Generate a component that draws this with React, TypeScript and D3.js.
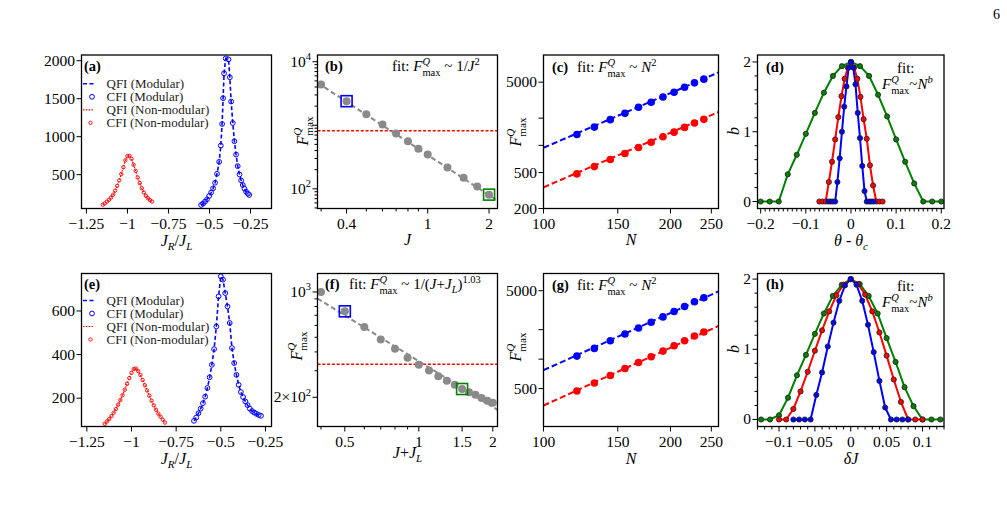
import React from 'react';
import * as d3 from 'd3';

const SERIF = '"Liberation Serif", "Times New Roman", Times, serif';
const BLUE = '#0000ff';
const RED = '#ff0000';
const GREEN = '#008000';
const GRAY = '#8a8a8a';
const TICK_FS = 15.5;
const FIT_FS = 15;
const SUP_FS = 10.5;

// ---- (a) Fisher information vs J_R/J_L, N small ----
const aModX = [-0.551, -0.539, -0.527, -0.515, -0.502, -0.49, -0.478, -0.466, -0.454, -0.441, -0.431, -0.423, -0.417, -0.411, -0.401, -0.384, -0.376, -0.368, -0.358, -0.348, -0.338, -0.328, -0.317, -0.307, -0.297, -0.287, -0.277, -0.266, -0.258];
const aModF = [102, 120, 146, 176, 220, 264, 320, 394, 512, 669, 883, 1167, 1507, 1834, 2030, 2017, 1782, 1463, 1180, 940, 765, 613, 503, 425, 364, 316, 277, 250, 233];
const aNonX = [-1.15, -1.1375, -1.125, -1.1125, -1.1, -1.0875, -1.075, -1.0625, -1.05, -1.0375, -1.025, -1.0125, -1.0, -0.9875, -0.975, -0.9625, -0.95, -0.9375, -0.925, -0.9125, -0.9, -0.8875, -0.875, -0.8625, -0.85];
const aNonF = [105, 122, 145, 170, 200, 237, 290, 352, 425, 508, 598, 690, 745, 748, 708, 630, 550, 462, 390, 322, 266, 222, 190, 165, 146];

// ---- (e) same, second coupling ----
const eModX = [-0.65, -0.6375, -0.625, -0.6125, -0.6, -0.5875, -0.575, -0.5625, -0.55, -0.5375, -0.525, -0.5125, -0.5, -0.4875, -0.475, -0.4625, -0.45, -0.4375, -0.425, -0.4125, -0.4, -0.3875, -0.375, -0.3625, -0.35, -0.3375, -0.325, -0.3125, -0.3, -0.2875, -0.275];
const eModF = [96, 111, 131, 152, 177, 207, 247, 296, 353, 425, 529, 667, 759, 744, 682, 621, 545, 430, 361, 307, 261, 228, 205, 185, 168, 152, 141, 134, 128, 123, 119];
const eNonX = [-1.15, -1.1375, -1.125, -1.1125, -1.1, -1.0875, -1.075, -1.0625, -1.05, -1.0375, -1.025, -1.0125, -1.0, -0.9875, -0.975, -0.9625, -0.95, -0.9375, -0.925, -0.9125, -0.9, -0.8875, -0.875, -0.8625, -0.85, -0.8375, -0.825, -0.8125];
const eNonF = [82, 93, 104, 118, 133, 150, 170, 191, 214, 239, 266, 292, 316, 334, 336, 324, 306, 283, 259, 235, 211, 188, 167, 147, 129, 115, 101, 88];

// ---- (b) peak QFI vs J ----
const bJ = [0.3, 0.4, 0.5, 0.6, 0.7, 0.8, 0.9, 1.0, 1.25, 1.5, 1.75, 2.0];
const bF = [4395, 2393, 1493, 1025, 740, 558, 428, 348, 217, 149, 109, 81];
const bFitJ = [0.288, 2.2];
const bFitF = [4660, 65];
const bRef = 820;

// ---- (f) peak QFI vs J+J_L ----
const fJ = [0.4, 0.5, 0.6, 0.7, 0.8, 0.9, 1.0, 1.1, 1.2, 1.3, 1.4, 1.5, 1.6, 1.7, 1.8, 1.9, 2.0];
const fF = [1000, 744, 585, 484, 420, 366, 329, 301, 276, 258, 242, 227, 216, 208, 198, 190, 184];
const fFitJ = [0.387, 2.09];
const fFitF = [905, 165];
const fRef = 332;

// ---- (c), (g) scaling with N ----
const nVals = [120, 132, 144, 156, 168, 180, 192, 204, 216, 228, 240];
const cBlue = [1321, 1592, 1925, 2261, 2636, 2999, 3434, 3873, 4404, 4920, 5404];
const cRed = [483, 582, 696, 812, 946, 1084, 1245, 1400, 1580, 1765, 1940];
const gBlue = [1074, 1288, 1542, 1806, 2083, 2383, 2702, 3068, 3451, 3856, 4236];
const gRed = [473, 571, 680, 803, 925, 1057, 1208, 1371, 1542, 1724, 1896];
const fitN = [100, 260];
const cFitBlue = [940, 6412];
const cFitRed = [343, 2338];
const gFitBlue = [771, 4920];
const gFitRed = [336, 2183];

// ---- (d) exponent b vs theta - theta_c ----
const dGreenX = [-0.2, -0.18, -0.16, -0.14, -0.12, -0.1, -0.08, -0.06, -0.04, -0.02, 0, 0.02, 0.04, 0.06, 0.08, 0.1, 0.12, 0.14, 0.16, 0.18, 0.2];
const dGreenB = [0, 0, 0, 0.39, 0.67, 0.97, 1.27, 1.56, 1.8, 1.94, 2.0, 1.94, 1.8, 1.53, 1.22, 0.89, 0.57, 0.26, 0, 0, 0];
const dRedX = [-0.07, -0.063, -0.056, -0.049, -0.042, -0.035, -0.028, -0.021, -0.014, -0.007, 0, 0.007, 0.014, 0.021, 0.028, 0.035, 0.042, 0.049, 0.056, 0.063, 0.07];
const dRedB = [0, 0, 0, 0.28, 0.57, 0.89, 1.21, 1.51, 1.76, 1.92, 2.0, 1.92, 1.76, 1.5, 1.18, 0.9, 0.52, 0.23, 0, 0, 0];
const dBlueX = [-0.05, -0.045, -0.04, -0.035, -0.03, -0.025, -0.02, -0.015, -0.01, -0.005, 0, 0.005, 0.01, 0.015, 0.02, 0.025, 0.03, 0.035, 0.04, 0.045, 0.05];
const dBlueB = [0, 0, 0, 0, 0.28, 0.62, 1.0, 1.36, 1.65, 1.92, 2.0, 1.92, 1.68, 1.27, 0.91, 0.51, 0.15, 0, 0, 0, 0];

// ---- (h) exponent b vs delta J ----
const hGreenX = [-0.125, -0.1125, -0.1, -0.0875, -0.075, -0.0625, -0.05, -0.0375, -0.025, -0.0125, 0, 0.0125, 0.025, 0.0375, 0.05, 0.0625, 0.075, 0.0875, 0.1, 0.1125, 0.125];
const hGreenB = [0, 0, 0.06, 0.31, 0.63, 0.92, 1.22, 1.51, 1.76, 1.92, 2.0, 1.93, 1.76, 1.51, 1.16, 0.82, 0.46, 0.19, 0, 0, 0];
const hRedX = [-0.1, -0.09, -0.08, -0.07, -0.06, -0.05, -0.04, -0.03, -0.02, -0.01, 0, 0.01, 0.02, 0.03, 0.04, 0.05, 0.06, 0.07, 0.08, 0.09, 0.1];
const hRedB = [0, 0, 0.15, 0.4, 0.68, 0.98, 1.27, 1.54, 1.77, 1.92, 2.0, 1.93, 1.78, 1.54, 1.24, 0.91, 0.57, 0.25, 0, 0, 0];
const hBlueX = [-0.08, -0.072, -0.064, -0.056, -0.048, -0.04, -0.032, -0.024, -0.016, -0.008, 0, 0.008, 0.016, 0.024, 0.032, 0.04, 0.048, 0.056, 0.064, 0.072, 0.08];
const hBlueB = [0, 0, 0, 0, 0.35, 0.67, 1.04, 1.38, 1.69, 1.91, 2.0, 1.92, 1.69, 1.35, 0.96, 0.55, 0.17, 0, 0, 0, 0];

// tick values
const jrTicks = [-1.25, -1, -0.75, -0.5, -0.25];
const jrLabels = ['\u22121.25', '\u22121', '\u22120.75', '\u22120.5', '\u22120.25'];
const nTicks = [100, 150, 200, 250];
const dTicks = [-0.2, -0.1, 0, 0.1, 0.2];
const dLabels = ['\u22120.2', '\u22120.1', '0', '0.1', '0.2'];
const hTicks = [-0.1, -0.05, 0, 0.05, 0.1];
const hLabels = ['\u22120.1', '\u22120.05', '0', '0.05', '0.1'];
const bTicks = [0, 1, 2];

// panel frames
const colX = [[81.5, 271.5], [317.5, 497.5], [543.5, 718.5], [757.5, 944]];
const rowY = [[55, 208.5], [273.5, 426.5]];

const lin = (dom: number[], c: number, r: number, axis: 'x' | 'y') =>
  d3.scaleLinear().domain(dom).range(axis === 'x' ? colX[c] : [rowY[r][1], rowY[r][0]]);
const lg = (dom: number[], c: number, r: number, axis: 'x' | 'y') =>
  d3.scaleLog().domain(dom).range(axis === 'x' ? colX[c] : [rowY[r][1], rowY[r][0]]);

function Frame({ c, r }: any) {
  const [x0, x1] = colX[c];
  const [y0, y1] = rowY[r];
  return <rect x={x0} y={y0} width={x1 - x0} height={y1 - y0} fill="none" stroke="#000" strokeWidth={1.3} />;
}

function XTicks({ s, r, major, minor = [], labels }: any) {
  const y = rowY[r][1];
  return (
    <g>
      <g stroke="#000" strokeWidth={1}>
        {major.map((v: number) => <line key={'M' + v} x1={s(v)} x2={s(v)} y1={y} y2={y + 5} />)}
        {minor.map((v: number) => <line key={'m' + v} x1={s(v)} x2={s(v)} y1={y} y2={y + 3} />)}
      </g>
      {labels && major.map((v: number, i: number) =>
        labels[i] == null ? null : (
          <text key={'L' + v} x={s(v)} y={y + 20} textAnchor="middle" fontSize={TICK_FS}>{labels[i]}</text>
        ))}
    </g>
  );
}

function YTicks({ s, c, major, minor = [], labels }: any) {
  const x = colX[c][0];
  return (
    <g>
      <g stroke="#000" strokeWidth={1}>
        {major.map((v: number) => <line key={'M' + v} x1={x} x2={x - 5} y1={s(v)} y2={s(v)} />)}
        {minor.map((v: number) => <line key={'m' + v} x1={x} x2={x - 3} y1={s(v)} y2={s(v)} />)}
      </g>
      {labels && major.map((v: number, i: number) =>
        labels[i] == null ? null : (
          <text key={'L' + v} x={x - 6.5} y={s(v) + 5} textAnchor="end" fontSize={TICK_FS}>{labels[i]}</text>
        ))}
    </g>
  );
}

function Curve({ xs, ys, sx, sy, stroke, width, dash }: any) {
  const d = d3.line<number>().x((_, i) => sx(xs[i])).y((v) => sy(v))(ys);
  return <path d={d || ''} fill="none" stroke={stroke} strokeWidth={width} strokeDasharray={dash} />;
}

function Dots({ xs, ys, sx, sy, r, fill, stroke, sw }: any) {
  return (
    <g>
      {xs.map((x: number, i: number) => (
        <circle key={i} cx={sx(x)} cy={sy(ys[i])} r={r} fill={fill} stroke={stroke} strokeWidth={sw} />
      ))}
    </g>
  );
}

// F^Q_max with Q stacked over "max"; `after` continues on the main baseline
function FQ({ size, after = '' }: any) {
  const s = size * 0.7;
  return (
    <>
      <tspan fontStyle="italic">F</tspan>
      <tspan fontStyle="italic" fontSize={s} dy={-size * 0.42}>Q</tspan>
      <tspan fontSize={s} dx={-s * 0.72} dy={size * 0.74}>max</tspan>
      {after ? <tspan dy={-size * 0.32}>{after}</tspan> : null}
    </>
  );
}

function Legend({ r }: any) {
  const top = r === 0 ? 83.8 : 300.5;
  const rows = ['QFI (Modular)', 'CFI (Modular)', 'QFI (Non-modular)', 'CFI (Non-modular)'];
  return (
    <g>
      <line x1={83} x2={94} y1={top} y2={top} stroke={BLUE} strokeWidth={1.6} strokeDasharray="4 2.5" />
      <circle cx={92} cy={top + 13} r={2.4} fill="none" stroke={BLUE} strokeWidth={1} />
      <line x1={83} x2={94} y1={top + 26} y2={top + 26} stroke={RED} strokeWidth={1.2} strokeDasharray="1.5 1.3" />
      <circle cx={90.5} cy={top + 39} r={1.7} fill="none" stroke={RED} strokeWidth={0.9} />
      {rows.map((t, i) => (
        <text key={t} x={106.5} y={top + 13 * i + 4.4} fontSize={13} fill="#222">{t}</text>
      ))}
    </g>
  );
}

function Square({ cx, cy, color }: any) {
  return <rect x={cx - 5.5} y={cy - 5.5} width={11} height={11} fill="none" stroke={color} strokeWidth={1.6} />;
}

const Sup = ({ children, italic }: any) => (
  <tspan fontSize={SUP_FS} dy={-6.5} fontStyle={italic ? 'italic' : undefined}>{children}</tspan>
);

export default function App() {
  // scales
  const ax = lin([-1.28, -0.122], 0, 0, 'x');
  const ay = lin([55, 2075], 0, 0, 'y');
  const ex = lin([-1.28, -0.216], 0, 1, 'x');
  const ey = lin([70, 772], 0, 1, 'y');
  const bx = lg([0.288, 2.2], 1, 0, 'x');
  const by = lg([49, 12760], 1, 0, 'y');
  const fx = lg([0.387, 2.09], 1, 1, 'x');
  const fy = lg([128, 1326], 1, 1, 'y');
  const cx = lg([100, 260], 2, 0, 'x');
  const cy = lg([200, 10000], 2, 0, 'y');
  const gx = lg([100, 260], 2, 1, 'x');
  const gy = lg([205, 7500], 2, 1, 'y');
  const dx = lin([-0.207, 0.206], 3, 0, 'x');
  const dy = lin([-0.1, 2.1], 3, 0, 'y');
  const hx = lin([-0.13, 0.13], 3, 1, 'x');
  const hy = lin([-0.1, 2.08], 3, 1, 'y');

  const pow10 = (e: string) => <>10<tspan fontSize={10.5} dy={-6.5}>{e}</tspan></>;
  const hundredths = d3.range(-20, 21).map((k) => k / 100).filter((v) => Math.abs(v * 10 - Math.round(v * 10)) > 1e-9);
  const hMinor = d3.range(-13, 14).map((k) => k / 100).filter((v) => Math.abs(v * 20 - Math.round(v * 20)) > 1e-9);
  const bMinor = [0.3, 0.5, 0.6, 0.7, 0.8, 0.9];
  const bYMinor = [50, 60, 70, 80, 90, 200, 300, 400, 500, 600, 700, 800, 900, 2000, 3000, 4000, 5000, 6000, 7000, 8000, 9000];
  const fYMinor = [300, 400, 500, 600, 700, 800, 900];
  const bMinorY = [0.2, 0.4, 0.6, 0.8, 1.2, 1.4, 1.6, 1.8];

  const axisLabelSize = 16;

  return (
    <svg width={1007} height={508} style={{ position: 'absolute', left: 0, top: 0, display: 'block' }}
      fontFamily={SERIF} fill="#000">
      <rect width={1007} height={508} fill="#fff" />
      <text x={993} y={19} fontSize={14}>6</text>

      {/* ---------- (a) ---------- */}
      <Curve xs={aNonX} ys={aNonF} sx={ax} sy={ay} stroke={RED} width={1.2} dash="1.5 1.3" />
      <Dots xs={aNonX} ys={aNonF} sx={ax} sy={ay} r={1.7} fill="none" stroke={RED} sw={0.9} />
      <Curve xs={aModX} ys={aModF} sx={ax} sy={ay} stroke={BLUE} width={1.6} dash="4 2.5" />
      <Dots xs={aModX} ys={aModF} sx={ax} sy={ay} r={2.4} fill="none" stroke={BLUE} sw={1} />
      <Frame c={0} r={0} />
      <XTicks s={ax} r={0} major={jrTicks} labels={jrLabels} />
      <YTicks s={ay} c={0} major={[500, 1000, 1500, 2000]} labels={['500', '1000', '1500', '2000']} />
      <text x={84} y={71} fontSize={14.5} fontWeight="bold">(a)</text>
      <Legend r={0} />
      <text x={176.5} y={246} fontSize={axisLabelSize} textAnchor="middle">
        <tspan fontStyle="italic">J</tspan><tspan fontStyle="italic" fontSize={11} dy={3.5}>R</tspan>
        <tspan dy={-3.5}>/</tspan><tspan fontStyle="italic">J</tspan><tspan fontStyle="italic" fontSize={11} dy={3.5}>L</tspan>
      </text>

      {/* ---------- (e) ---------- */}
      <Curve xs={eNonX} ys={eNonF} sx={ex} sy={ey} stroke={RED} width={1.2} dash="1.5 1.3" />
      <Dots xs={eNonX} ys={eNonF} sx={ex} sy={ey} r={1.7} fill="none" stroke={RED} sw={0.9} />
      <Curve xs={eModX} ys={eModF} sx={ex} sy={ey} stroke={BLUE} width={1.6} dash="4 2.5" />
      <Dots xs={eModX} ys={eModF} sx={ex} sy={ey} r={2.4} fill="none" stroke={BLUE} sw={1} />
      <Frame c={0} r={1} />
      <XTicks s={ex} r={1} major={jrTicks} labels={jrLabels} />
      <YTicks s={ey} c={0} major={[200, 400, 600]} labels={['200', '400', '600']} />
      <text x={84} y={289} fontSize={14.5} fontWeight="bold">(e)</text>
      <Legend r={1} />
      <text x={176.5} y={464} fontSize={axisLabelSize} textAnchor="middle">
        <tspan fontStyle="italic">J</tspan><tspan fontStyle="italic" fontSize={11} dy={3.5}>R</tspan>
        <tspan dy={-3.5}>/</tspan><tspan fontStyle="italic">J</tspan><tspan fontStyle="italic" fontSize={11} dy={3.5}>L</tspan>
      </text>

      {/* ---------- (b) ---------- */}
      <line x1={colX[1][0]} x2={colX[1][1]} y1={by(bRef)} y2={by(bRef)} stroke={RED} strokeWidth={1.5} strokeDasharray="3 1.8" />
      <Curve xs={bFitJ} ys={bFitF} sx={bx} sy={by} stroke={GRAY} width={2} dash="5 3" />
      <Dots xs={bJ} ys={bF} sx={bx} sy={by} r={4} fill={GRAY} stroke="none" sw={0} />
      <Square cx={bx(bJ[1])} cy={by(bF[1])} color={BLUE} />
      <Square cx={bx(bJ[11])} cy={by(bF[11])} color={GREEN} />
      <Frame c={1} r={0} />
      <XTicks s={bx} r={0} major={[0.4, 1, 2]} minor={bMinor} labels={['0.4', '1', '2']} />
      <YTicks s={by} c={1} major={[100, 1000, 10000]} minor={bYMinor} labels={[pow10('2'), null, pow10('4')]} />
      <text x={325} y={71} fontSize={14.5} fontWeight="bold">(b)</text>
      <text x={392} y={71} fontSize={FIT_FS}>
        fit: <FQ size={FIT_FS} after=" ~ 1/" /><tspan fontStyle="italic">J</tspan><Sup>2</Sup>
      </text>
      <text transform="translate(308,131) rotate(-90)" fontSize={16} textAnchor="middle"><FQ size={16} /></text>
      <text x={407.5} y={245} fontSize={axisLabelSize} textAnchor="middle" fontStyle="italic">J</text>

      {/* ---------- (f) ---------- */}
      <line x1={colX[1][0]} x2={colX[1][1]} y1={fy(fRef)} y2={fy(fRef)} stroke={RED} strokeWidth={1.5} strokeDasharray="3 1.8" />
      <Curve xs={fFitJ} ys={fFitF} sx={fx} sy={fy} stroke={GRAY} width={2} dash="5 3" />
      <Dots xs={fJ} ys={fF} sx={fx} sy={fy} r={4} fill={GRAY} stroke="none" sw={0} />
      <Square cx={fx(fJ[1])} cy={fy(fF[1])} color={BLUE} />
      <Square cx={fx(fJ[11])} cy={fy(fF[11])} color={GREEN} />
      <Frame c={1} r={1} />
      <XTicks s={fx} r={1} major={[0.5, 1, 1.5, 2]} minor={[0.4, 0.6, 0.7, 0.8, 0.9]} labels={['0.5', '1', '1.5', '2']} />
      <YTicks s={fy} c={1} major={[200, 1000]} minor={fYMinor} labels={[<>2×{pow10('2')}</>, pow10('3')]} />
      <text x={325} y={289} fontSize={14.5} fontWeight="bold">(f)</text>
      <text x={349} y={289} fontSize={FIT_FS}>
        fit: <FQ size={FIT_FS} after=" ~ 1/(" /><tspan fontStyle="italic">J</tspan>+<tspan fontStyle="italic">J</tspan>
        <tspan fontStyle="italic" fontSize={SUP_FS} dy={3.5}>L</tspan><tspan dy={-3.5}>)</tspan>
        <Sup>1.03</Sup>
      </text>
      <text transform="translate(302,346) rotate(-90)" fontSize={16} textAnchor="middle"><FQ size={16} /></text>
      <text x={407.5} y={458} fontSize={axisLabelSize} textAnchor="middle">
        <tspan fontStyle="italic">J</tspan>+<tspan fontStyle="italic">J</tspan><tspan fontStyle="italic" fontSize={11} dy={3.5}>L</tspan>
      </text>

      {/* ---------- (c) ---------- */}
      <Curve xs={fitN} ys={cFitBlue} sx={cx} sy={cy} stroke={BLUE} width={2} dash="6 3" />
      <Curve xs={fitN} ys={cFitRed} sx={cx} sy={cy} stroke={RED} width={2} dash="6 3" />
      <Dots xs={nVals} ys={cBlue} sx={cx} sy={cy} r={3.8} fill={BLUE} stroke="none" sw={0} />
      <Dots xs={nVals} ys={cRed} sx={cx} sy={cy} r={3.8} fill={RED} stroke="none" sw={0} />
      <Frame c={2} r={0} />
      <XTicks s={cx} r={0} major={nTicks} labels={nTicks.map(String)} />
      <YTicks s={cy} c={2} major={[200, 500, 1000, 2000, 5000]} labels={['200', '500', null, null, '5000']} />
      <text x={552} y={72} fontSize={14.5} fontWeight="bold">(c)</text>
      <text x={577} y={72} fontSize={FIT_FS}>
        fit: <FQ size={FIT_FS} after=" ~ " /><tspan fontStyle="italic">N</tspan><Sup>2</Sup>
      </text>
      <text transform="translate(521,132) rotate(-90)" fontSize={16} textAnchor="middle"><FQ size={16} /></text>
      <text x={631} y={245} fontSize={axisLabelSize} textAnchor="middle" fontStyle="italic">N</text>

      {/* ---------- (g) ---------- */}
      <Curve xs={fitN} ys={gFitBlue} sx={gx} sy={gy} stroke={BLUE} width={2} dash="6 3" />
      <Curve xs={fitN} ys={gFitRed} sx={gx} sy={gy} stroke={RED} width={2} dash="6 3" />
      <Dots xs={nVals} ys={gBlue} sx={gx} sy={gy} r={3.8} fill={BLUE} stroke="none" sw={0} />
      <Dots xs={nVals} ys={gRed} sx={gx} sy={gy} r={3.8} fill={RED} stroke="none" sw={0} />
      <Frame c={2} r={1} />
      <XTicks s={gx} r={1} major={nTicks} labels={nTicks.map(String)} />
      <YTicks s={gy} c={2} major={[500, 1000, 2000, 5000]} labels={['500', null, null, '5000']} />
      <text x={552} y={290} fontSize={14.5} fontWeight="bold">(g)</text>
      <text x={577} y={290} fontSize={FIT_FS}>
        fit: <FQ size={FIT_FS} after=" ~ " /><tspan fontStyle="italic">N</tspan><Sup>2</Sup>
      </text>
      <text transform="translate(521,347) rotate(-90)" fontSize={16} textAnchor="middle"><FQ size={16} /></text>
      <text x={631} y={464} fontSize={axisLabelSize} textAnchor="middle" fontStyle="italic">N</text>

      {/* ---------- (d) ---------- */}
      <Curve xs={dGreenX} ys={dGreenB} sx={dx} sy={dy} stroke={GREEN} width={2} />
      <Curve xs={dRedX} ys={dRedB} sx={dx} sy={dy} stroke={RED} width={2} />
      <Curve xs={dBlueX} ys={dBlueB} sx={dx} sy={dy} stroke={BLUE} width={2} />
      <Dots xs={dGreenX} ys={dGreenB} sx={dx} sy={dy} r={2.6} fill={GREEN} stroke="#222" sw={0.8} />
      <Dots xs={dRedX} ys={dRedB} sx={dx} sy={dy} r={2.6} fill={RED} stroke="#222" sw={0.8} />
      <Dots xs={dBlueX} ys={dBlueB} sx={dx} sy={dy} r={2.6} fill={BLUE} stroke="#222" sw={0.8} />
      <Frame c={3} r={0} />
      <XTicks s={dx} r={0} major={dTicks} minor={hundredths} labels={dLabels} />
      <YTicks s={dy} c={3} major={bTicks} minor={bMinorY} labels={['0', '1', '2']} />
      <text x={766} y={72} fontSize={14.5} fontWeight="bold">(d)</text>
      <text x={897} y={73} fontSize={FIT_FS}>fit:</text>
      <text x={882} y={89} fontSize={FIT_FS}>
        <FQ size={FIT_FS} after="~" /><tspan fontStyle="italic">N</tspan><Sup italic>b</Sup>
      </text>
      <text transform="translate(739,131) rotate(-90)" fontSize={16} textAnchor="middle" fontStyle="italic">b</text>
      <text x={851} y={246} fontSize={axisLabelSize} textAnchor="middle">
        <tspan fontStyle="italic">θ</tspan> - <tspan fontStyle="italic">θ</tspan><tspan fontStyle="italic" fontSize={11} dy={3.5}>c</tspan>
      </text>

      {/* ---------- (h) ---------- */}
      <Curve xs={hGreenX} ys={hGreenB} sx={hx} sy={hy} stroke={GREEN} width={2} />
      <Curve xs={hRedX} ys={hRedB} sx={hx} sy={hy} stroke={RED} width={2} />
      <Curve xs={hBlueX} ys={hBlueB} sx={hx} sy={hy} stroke={BLUE} width={2} />
      <Dots xs={hGreenX} ys={hGreenB} sx={hx} sy={hy} r={2.6} fill={GREEN} stroke="#222" sw={0.8} />
      <Dots xs={hRedX} ys={hRedB} sx={hx} sy={hy} r={2.6} fill={RED} stroke="#222" sw={0.8} />
      <Dots xs={hBlueX} ys={hBlueB} sx={hx} sy={hy} r={2.6} fill={BLUE} stroke="#222" sw={0.8} />
      <Frame c={3} r={1} />
      <XTicks s={hx} r={1} major={hTicks} minor={hMinor} labels={hLabels} />
      <YTicks s={hy} c={3} major={bTicks} minor={bMinorY} labels={['0', '1', '2']} />
      <text x={766} y={289} fontSize={14.5} fontWeight="bold">(h)</text>
      <text x={897} y={291} fontSize={FIT_FS}>fit:</text>
      <text x={882} y={307} fontSize={FIT_FS}>
        <FQ size={FIT_FS} after="~" /><tspan fontStyle="italic">N</tspan><Sup italic>b</Sup>
      </text>
      <text transform="translate(739,349) rotate(-90)" fontSize={16} textAnchor="middle" fontStyle="italic">b</text>
      <text x={851} y={464} fontSize={axisLabelSize} textAnchor="middle">
        <tspan fontStyle="italic">δJ</tspan>
      </text>
    </svg>
  );
}
